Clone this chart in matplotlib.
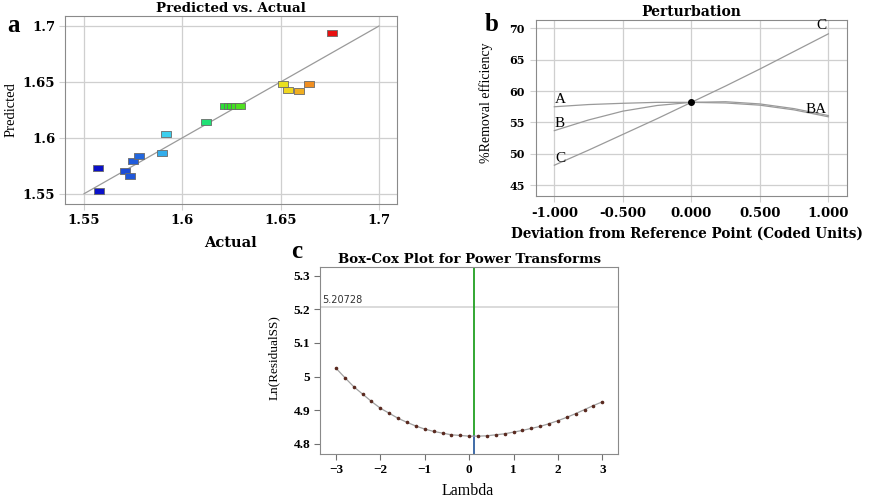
import matplotlib
matplotlib.use("Agg")
import matplotlib.pyplot as plt
from matplotlib.colors import LinearSegmentedColormap, Normalize

# ---- data: (a) predicted vs actual
actual = [1.5573, 1.5578, 1.5709, 1.5736, 1.5747, 1.5782, 1.5896, 1.5917, 1.6122,
          1.6215, 1.6235, 1.6255, 1.6275, 1.6295,
          1.6514, 1.6539, 1.6595, 1.6645, 1.6762]
predicted = [1.5734, 1.5524, 1.5707, 1.5656, 1.5793, 1.5838, 1.5868, 1.6030, 1.6138,
             1.6287, 1.6287, 1.6287, 1.6287, 1.6287,
             1.6482, 1.6425, 1.6422, 1.6485, 1.6940]
a_ticks = [1.55, 1.6, 1.65, 1.7]
a_ticklabels = ["1.55", "1.6", "1.65", "1.7"]

# ---- data: (b) perturbation
coded = [-1.0, -0.75, -0.5, -0.25, 0.0, 0.25, 0.5, 0.75, 1.0]
pert_A = [57.5, 57.85, 58.05, 58.2, 58.2, 58.1, 57.75, 57.0, 55.9]
pert_B = [53.7, 55.4, 56.8, 57.7, 58.2, 58.3, 57.95, 57.2, 56.1]
pert_C = [48.2, 50.6, 53.1, 55.6, 58.2, 60.8, 63.5, 66.3, 69.1]
b_xticks = [-1.0, -0.5, 0.0, 0.5, 1.0]
b_xticklabels = ["-1.000", "-0.500", "0.000", "0.500", "1.000"]
b_yticks = [45, 50, 55, 60, 65, 70]

# ---- data: (c) Box-Cox
lam = [-3.0, -2.8, -2.6, -2.4, -2.2, -2.0, -1.8, -1.6, -1.4, -1.2, -1.0,
       -0.8, -0.6, -0.4, -0.2, 0.0, 0.2, 0.4, 0.6, 0.8, 1.0,
       1.2, 1.4, 1.6, 1.8, 2.0, 2.2, 2.4, 2.6, 2.8, 3.0]
ln_ss = [5.025, 4.997, 4.970, 4.948, 4.926, 4.906, 4.891, 4.876, 4.864, 4.853, 4.844,
         4.837, 4.832, 4.827, 4.825, 4.823, 4.823, 4.824, 4.827, 4.830, 4.835,
         4.840, 4.846, 4.852, 4.860, 4.869, 4.879, 4.890, 4.902, 4.914, 4.925]
ci_level = 5.20728
best_lambda = 0.12
c_yticks = [4.8, 4.9, 5.0, 5.1, 5.2, 5.3]
c_yticklabels = ["4.8", "4.9", "5", "5.1", "5.2", "5.3"]
c_xticks = [-3, -2, -1, 0, 1, 2, 3]

W, H = 883, 497
fig = plt.figure(figsize=(W / 100, H / 100), dpi=100)


def box(l, t, r, b):
    return [l / W, 1 - b / H, (r - l) / W, (b - t) / H]


grid_c = "#cfcfcf"
spine_c = "#8a8a8a"
line_c = "#9a9a9a"
wide = "DejaVu Serif"
times = "Liberation Serif"

# ================= (a)
ax = fig.add_axes(box(65, 16, 397, 204))
cmap = LinearSegmentedColormap.from_list(
    "de", [(0, "#0a10c8"), (0.12, "#1e50d8"), (0.25, "#2a8ae8"), (0.3, "#40e0f0"),
           (0.47, "#20e070"), (0.57, "#30e020"), (0.8, "#f0e020"),
           (0.86, "#f0b020"), (0.92, "#f08020"), (1.0, "#e81010")])
norm = Normalize(min(actual), max(actual))
ax.plot([a_ticks[0], a_ticks[-1]], [a_ticks[0], a_ticks[-1]], color=line_c, lw=0.9, zorder=2)
rect = [(-1, -0.6), (1, -0.6), (1, 0.6), (-1, 0.6), (-1, -0.6)]
for xv, yv in zip(actual, predicted):
    ax.plot(xv, yv, marker=rect, ms=6.5, mfc=cmap(norm(xv)), mec="#6a6a6a", mew=0.6,
            ls="none", zorder=3)
ax.set_xlim(1.5403, 1.7092)
ax.set_ylim(1.5408, 1.709)
ax.set_xticks(a_ticks, a_ticklabels)
ax.set_yticks(a_ticks, a_ticklabels)
for lab in ax.get_xticklabels() + ax.get_yticklabels():
    lab.set_fontfamily(wide)
    lab.set_fontweight("bold")
    lab.set_fontsize(9.5)
ax.tick_params(length=4, width=0.8, color=grid_c, pad=3)
ax.grid(True, color=grid_c, lw=0.9)
ax.set_axisbelow(True)
for s in ax.spines.values():
    s.set_color(spine_c)
ax.set_title("Predicted vs. Actual", family=wide, weight="bold", fontsize=9.6, pad=3)
ax.set_xlabel("Actual", family=wide, weight="bold", fontsize=10.5)
ax.xaxis.set_label_coords(0.497, -0.170)
ax.set_ylabel("Predicted", family=times, fontsize=10.5)
ax.yaxis.set_label_coords(-0.142, 0.5)

# ================= (b)
ax = fig.add_axes(box(535.7, 20, 847, 195.7))
for ys in (pert_A, pert_B, pert_C):
    ax.plot(coded, ys, color=line_c, lw=0.9, zorder=2)
ax.plot(coded[4], pert_C[4], "o", color="black", ms=4, zorder=3)
ax.text(coded[0] + 0.005, pert_A[0] + 0.1, "A", family=times, fontsize=11, va="bottom")
ax.text(coded[0] + 0.005, pert_B[0] + 0.1, "B", family=times, fontsize=11, va="bottom")
ax.text(coded[0] + 0.005, pert_C[0] + 0.1, "C", family=times, fontsize=11, va="bottom")
ax.text(coded[-1] - 0.01, pert_C[-1] + 0.3, "C", family=times, fontsize=11, ha="right",
        va="bottom")
ax.text(coded[-1] - 0.01, pert_B[-1] - 0.1, "BA", family=times, fontsize=11, ha="right",
        va="bottom")
ax.set_xlim(-1.136, 1.136)
ax.set_ylim(43.35, 71.3)
ax.set_xticks(b_xticks, b_xticklabels)
ax.set_yticks(b_yticks)
for lab in ax.get_xticklabels():
    lab.set_fontfamily(wide)
    lab.set_fontweight("bold")
    lab.set_fontsize(9.5)
for lab in ax.get_yticklabels():
    lab.set_fontfamily(wide)
    lab.set_fontweight("bold")
    lab.set_fontsize(8)
ax.tick_params(length=4, width=0.8, color=grid_c, pad=4)
ax.grid(True, color=grid_c, lw=0.9)
ax.set_axisbelow(True)
for s in ax.spines.values():
    s.set_color(spine_c)
ax.set_title("Perturbation", family=wide, weight="bold", fontsize=10, pad=3)
ax.set_xlabel("Deviation from Reference Point (Coded Units)", family=wide, weight="bold",
              fontsize=9.8)
ax.xaxis.set_label_coords(0.486, -0.178)
ax.set_ylabel("%Removal efficiency", family=times, fontsize=10)
ax.yaxis.set_label_coords(-0.137, 0.528)

# ================= (c)
ax = fig.add_axes(box(320, 267.3, 618.3, 454.3))
ymin, ymax = 4.769, 5.325
ax.axhline(ci_level, color="#d4d4d4", lw=1.2, zorder=1)
ax.text(-3.3, ci_level + 0.006, "%.5f" % ci_level, family="DejaVu Sans", fontsize=7,
        color="#333333", va="bottom")
low = min(ln_ss)
ax.plot([best_lambda, best_lambda], [low, ymax], color="#22a022", lw=1.3, zorder=2)
ax.plot([best_lambda, best_lambda], [ymin, low], color="#3060a0", lw=1.3, zorder=2)
ax.plot(lam, ln_ss, color="#a0a0a0", lw=0.9, zorder=3)
ax.plot(lam, ln_ss, ls="none", marker="o", ms=1.6, color="#5a2a20", zorder=4)
ax.set_xlim(-3.36, 3.36)
ax.set_ylim(ymin, ymax)
ax.set_xticks(c_xticks)
ax.set_yticks(c_yticks, c_yticklabels)
for lab in ax.get_xticklabels() + ax.get_yticklabels():
    lab.set_fontfamily(times)
    lab.set_fontweight("bold")
    lab.set_fontsize(9.5)
ax.tick_params(length=4, width=0.8, color="#707070", pad=3)
for s in ax.spines.values():
    s.set_color(spine_c)
ax.set_title("Box-Cox Plot for Power Transforms", family=wide, weight="bold",
             fontsize=9.6, pad=3)
ax.set_xlabel("Lambda", family=times, fontsize=11.5)
ax.xaxis.set_label_coords(0.496, -0.152)
ax.set_ylabel("Ln(ResidualSS)", family=times, fontsize=9.5)
ax.yaxis.set_label_coords(-0.134, 0.515)

# panel letters
fig.text(7 / W, 1 - 32 / H, "a", family=times, weight="bold", fontsize=18, va="baseline")
fig.text(485 / W, 1 - 31 / H, "b", family=times, weight="bold", fontsize=18, va="baseline")
fig.text(291 / W, 1 - 258 / H, "c", family=times, weight="bold", fontsize=18, va="baseline")

fig.savefig("out.png", dpi=100)
